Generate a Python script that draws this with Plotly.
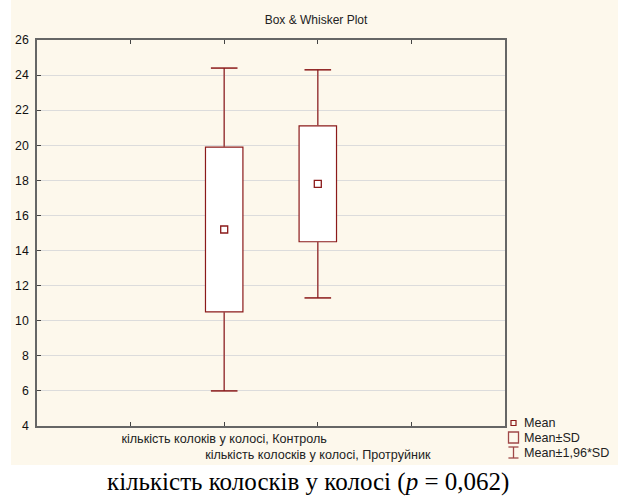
import plotly.graph_objects as go

categories = ["кількість колоків у колосі, Контроль", "кількість колосків у колосі, Протруйник"]
means = [15.2, 17.8]
sd_low = [10.5, 14.5]
sd_high = [19.9, 21.1]
ci_low = [6.0, 11.3]
ci_high = [24.4, 24.3]
y_ticks = list(range(4, 27, 2))

RED = "#8B1A1A"
CREAM = "#FDF8EC"
W, H = 618, 500
L, R, T, B = 37, 505, 40, 426

xs = [i + 2 for i in range(len(categories))]

fig = go.Figure()

# Mean ± SD boxes
fig.add_trace(go.Bar(
    x=xs, y=[h - l for h, l in zip(sd_high, sd_low)], base=sd_low, width=0.4,
    marker=dict(color="white", line=dict(color=RED, width=1.2)),
    showlegend=False, hoverinfo="skip"))

# whiskers
wx, wy = [], []
for x, lo, hi, clo, chi in zip(xs, sd_low, sd_high, ci_low, ci_high):
    wx += [x, x, None, x, x, None]
    wy += [hi, chi, None, lo, clo, None]
fig.add_trace(go.Scatter(x=wx, y=wy, mode="lines", line=dict(color="#A04848", width=1.6),
                         showlegend=False, hoverinfo="skip"))
# caps
fig.add_trace(go.Scatter(
    x=xs + xs, y=ci_high + ci_low, mode="markers",
    marker=dict(symbol="line-ew", size=19, line=dict(color=RED, width=1.5)),
    showlegend=False, hoverinfo="skip"))
# means
fig.add_trace(go.Scatter(
    x=xs, y=means, mode="markers",
    marker=dict(symbol="square-open", size=7, color=RED, line=dict(width=1.3)),
    showlegend=False, hoverinfo="skip"))

def px(xp):
    return (xp - L) / (R - L)

def py(yp):
    return (B - yp) / (B - T)

shapes = [
    dict(type="rect", xref="paper", yref="paper", x0=px(11), x1=px(618), y0=py(465), y1=py(0),
         fillcolor=CREAM, line=dict(width=0), layer="below"),
    # legend symbols
    dict(type="rect", xref="paper", yref="paper", x0=px(511), x1=px(516), y0=py(425.5), y1=py(420.5),
         fillcolor="rgba(0,0,0,0)", line=dict(color=RED, width=1.2)),
    dict(type="rect", xref="paper", yref="paper", x0=px(508.5), x1=px(518.5), y0=py(443), y1=py(432),
         fillcolor="rgba(0,0,0,0)", line=dict(color="#A04848", width=1.3)),
    dict(type="line", xref="paper", yref="paper", x0=px(513.5), x1=px(513.5), y0=py(458), y1=py(447),
         line=dict(color="#A04848", width=1.3)),
    dict(type="line", xref="paper", yref="paper", x0=px(508.5), x1=px(518.5), y0=py(447), y1=py(447),
         line=dict(color="#A04848", width=1.3)),
    dict(type="line", xref="paper", yref="paper", x0=px(508.5), x1=px(518.5), y0=py(458), y1=py(458),
         line=dict(color="#A04848", width=1.3)),
]

legend_items = [("Mean", 423), ("Mean±SD", 437.5), ("Mean±1,96*SD", 452.5)]
annotations = []
for txt, yy in legend_items:
    annotations.append(dict(text=txt, xref="paper", yref="paper", x=px(522), y=py(yy),
                            xanchor="left", yanchor="middle", showarrow=False,
                            font=dict(family="Liberation Sans, Arial", size=12.6, color="#222")))
annotations.append(dict(text="кількість колосків у колосі (<i>p</i> = 0,062)", xref="paper", yref="paper",
                        x=px(308), y=py(482), xanchor="center", yanchor="middle", showarrow=False,
                        font=dict(family="Liberation Serif, Times New Roman", size=25, color="black")))

ticktext = [""] * 6
for i, c in enumerate(categories):
    ticktext[xs[i]] = ("<br>" * i) + c

fig.update_layout(
    width=W, height=H,
    margin=dict(l=L, r=W - R, t=T, b=H - B, pad=0, autoexpand=False),
    paper_bgcolor="white", plot_bgcolor="white",
    title=dict(text="Box & Whisker Plot", x=316 / W, y=1 - 20 / H, xref="container", yref="container",
               xanchor="center", yanchor="middle", automargin=False,
               font=dict(family="Liberation Sans, Arial", size=12, color="#222")),
    shapes=shapes, annotations=annotations, showlegend=False,
    xaxis=dict(range=[0, 5], tickvals=list(range(6)), ticktext=ticktext, ticks="inside", ticklen=4,
               tickangle=0, automargin=False,
               tickcolor="#444", showgrid=False, zeroline=False, showline=True, linecolor="#666",
               linewidth=1.5, mirror="ticks",
               tickfont=dict(family="Liberation Sans, Arial", size=12.6, color="#222")),
    yaxis=dict(range=[4, 26], tickvals=y_ticks, ticks="inside", ticklen=4, tickcolor="#444",
               automargin=False,
               showgrid=True, gridcolor="#DCDCDC", gridwidth=1.2, zeroline=False, showline=True,
               linecolor="#666", linewidth=1.5, mirror=True, ticklabelstandoff=4,
               tickfont=dict(family="Liberation Sans, Arial", size=12.3, color="#111")),
)

fig.write_html("out.html")
